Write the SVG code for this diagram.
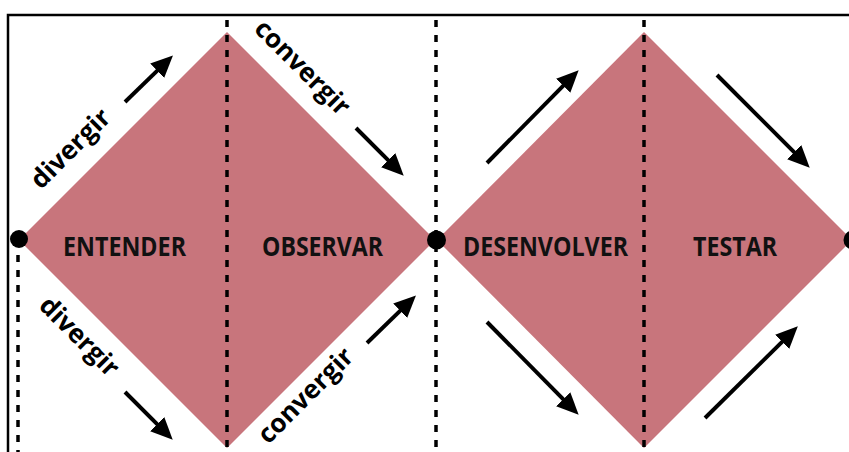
<svg xmlns="http://www.w3.org/2000/svg" width="849" height="452" viewBox="0 0 849 452">
<style>
.dia{fill:#C8757C;stroke:none}
.dash{stroke:#000;stroke-width:3.5;stroke-dasharray:7 8;fill:none}
.dot{fill:#000}
.lbl{font-family:"Open Sans","Liberation Sans",sans-serif;font-weight:700;font-size:26px;fill:#111;text-anchor:middle}
.side{font-family:"Open Sans","Liberation Sans",sans-serif;font-weight:700;font-size:26px;fill:#000;text-anchor:middle}
.arr{stroke:#000;stroke-width:4;fill:none;marker-end:url(#head)}
</style>
<defs>
<marker id="head" markerUnits="userSpaceOnUse" markerWidth="24" markerHeight="20" refX="2" refY="10" orient="auto">
<path d="M0,0 L22,10 L0,20 z" fill="#000"/>
</marker>
</defs>
<rect x="0" y="0" width="849" height="452" fill="#fff"/>
<rect x="8" y="15" width="900" height="500" fill="none" stroke="#000" stroke-width="2.5"/>
<g id="diamond1">
<polygon class="dia" points="19,240 227,32 435,240 227,448"/>
</g>
<g id="diamond2">
<polygon class="dia" points="437,240 644,32 852,240 644,448"/>
</g>
<g id="dividers">
<line class="dash" x1="18" y1="240" x2="18" y2="452"/>
<line class="dash" x1="227" y1="20" x2="227" y2="452"/>
<line class="dash" x1="436" y1="20" x2="436" y2="452"/>
<line class="dash" x1="644" y1="20" x2="644" y2="452"/>
<line class="dash" x1="852" y1="240" x2="852" y2="452"/>
</g>
<g id="entender"><text class="lbl" x="124.5" y="256" textLength="123" lengthAdjust="spacingAndGlyphs">ENTENDER</text></g>
<g id="observar"><text class="lbl" x="322.5" y="256" textLength="121" lengthAdjust="spacingAndGlyphs">OBSERVAR</text></g>
<g id="desenvolver"><text class="lbl" x="545.5" y="256" textLength="165" lengthAdjust="spacingAndGlyphs">DESENVOLVER</text></g>
<g id="testar"><text class="lbl" x="735" y="256" textLength="84" lengthAdjust="spacingAndGlyphs">TESTAR</text></g>
<g id="dot-start"><circle class="dot" cx="19" cy="239" r="9"/></g>
<g id="dot-mid"><circle class="dot" cx="436.5" cy="240" r="9.5"/></g>
<g id="dot-end"><circle class="dot" cx="853" cy="240" r="9.5"/></g>
<g id="labels">
<text class="side" transform="translate(71,149) rotate(-45)" y="8">divergir</text>
<text class="side" transform="translate(302,68) rotate(45)" y="8">convergir</text>
<text class="side" transform="translate(79,337) rotate(45)" y="8">divergir</text>
<text class="side" transform="translate(306,396) rotate(-45)" y="8">convergir</text>
</g>
<g id="connectors">
<line class="arr" x1="125" y1="102" x2="158.6" y2="69.4"/>
<line class="arr" x1="356" y1="128" x2="389.6" y2="161.6"/>
<line class="arr" x1="125" y1="392" x2="158.6" y2="425.6"/>
<line class="arr" x1="367" y1="343" x2="401.6" y2="309.4"/>
<line class="arr" x1="487" y1="163" x2="564.6" y2="84.4"/>
<line class="arr" x1="717" y1="75" x2="795.6" y2="153.6"/>
<line class="arr" x1="487" y1="322" x2="564.6" y2="400.6"/>
<line class="arr" x1="705" y1="418" x2="783.6" y2="340.4"/>
</g>
</svg>
